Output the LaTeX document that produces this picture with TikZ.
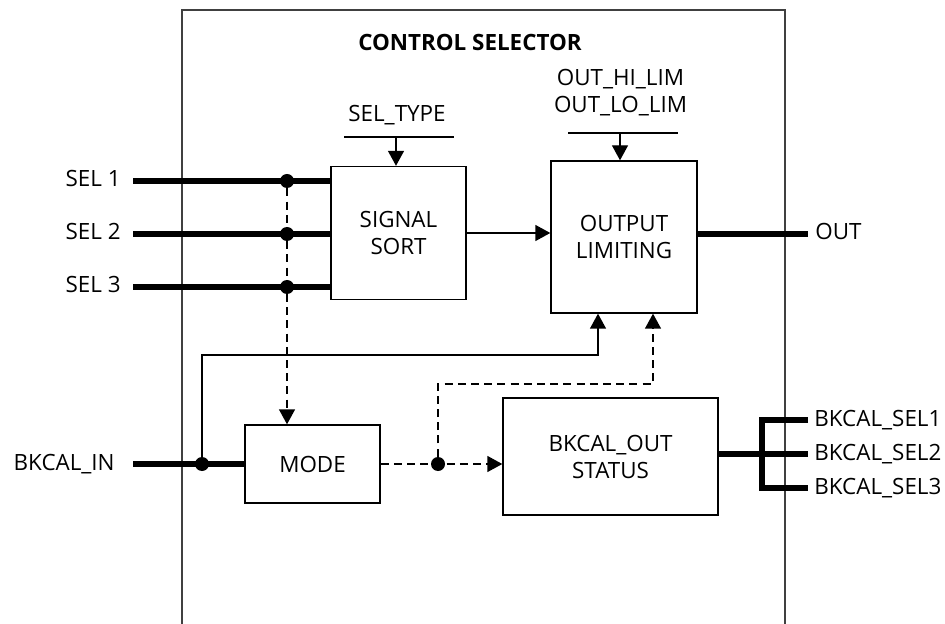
\documentclass[tikz,border=0pt]{standalone}
\usepackage{fontspec}
\setmainfont{Open Sans}
\usepackage{tikz}
\usetikzlibrary{arrows.meta,positioning}

\begin{document}
\begin{tikzpicture}[x=0.5pt,y=-0.5pt,
  font=\fontsize{11.2}{13.5}\selectfont,
  >={Triangle[length=7.5pt,width=8pt]},
  frame/.style={line width=0.7pt,black!75},
  blk/.style={draw,line width=0.7pt,align=center,inner sep=0pt},
  lbl/.style={inner sep=0pt,text height=8pt,text depth=2pt},
  sig/.style={line width=0.7pt},
  dsig/.style={line width=0.7pt,dash pattern=on 4pt off 2.6pt},
  bus/.style={line width=2.6pt},
  dot/.style={circle,fill,inner sep=0pt,minimum size=7pt}]
  \useasboundingbox (0,0) rectangle (945,624);
  % outer frame, open at the bottom
  \draw[frame] (182,624) |- (785,10) -- (785,624);
  \node[font=\bfseries\fontsize{11.2}{13}\selectfont] (title) at (470,42) {CONTROL SELECTOR};
  % blocks
  \node[blk,minimum width=67.5pt,minimum height=66.5pt] (sort) at (398.5,233) {SIGNAL\\SORT};
  \node[blk,minimum width=73pt,minimum height=76pt] (limit) at (624,237) {OUTPUT\\LIMITING};
  \node[blk,minimum width=67.5pt,minimum height=39pt] (mode) at (312.5,464) {MODE};
  \node[blk,minimum width=107.5pt,minimum height=58.5pt] (bkout) at (610.5,456.5) {BKCAL\_OUT\\STATUS};
  % parameters from above
  \node[lbl] (seltype) at (397,116) {SEL\_TYPE};
  \coordinate (stin) at (396,137);
  \draw[sig] ([xshift=-26pt]stin) -- ([xshift=29pt]stin);
  \draw[sig,->] (stin) -- (stin |- sort.north);
  \node[align=center,inner sep=0pt] (lims) at (620.5,93) {OUT\_HI\_LIM\\OUT\_LO\_LIM};
  \coordinate (limin) at (620,133);
  \draw[sig] ([xshift=-26pt]limin) -- ([xshift=29pt]limin);
  \draw[sig,->] (limin) -- (limin |- limit.north);
  % inputs
  \node[lbl,anchor=east,inner xsep=6pt] (sel1) at (133,181) {SEL 1};
  \node[lbl,anchor=east,inner xsep=6pt] (sel2) at (133,234) {SEL 2};
  \node[lbl,anchor=east,inner xsep=6pt] (sel3) at (133,287) {SEL 3};
  \node[lbl,anchor=east,inner xsep=9pt] (bkin) at (133,464) {BKCAL\_IN};
  \draw[bus] (sel1.east) -- (sel1.east -| sort.west);
  \draw[bus] (sel2.east) -- (sel2.east -| sort.west);
  \draw[bus] (sel3.east) -- (sel3.east -| sort.west);
  \draw[bus] (bkin.east) -- (bkin.east -| mode.west);
  \node[dot] (j1) at (287,181) {};
  \node[dot] (j2) at (287,234) {};
  \node[dot] (j3) at (287,287) {};
  \node[dot] (jin) at (202,464) {};
  \node[dot] (jm) at (438,464) {};
  \draw[dsig,->] (j1) -- (j1 |- mode.north);
  % feedback paths into the limiter
  \coordinate (fb) at (598,355);
  \coordinate (fd) at (653,384);
  \draw[sig,->] (jin) |- (fb) -- (fb |- limit.south);
  \draw[dsig,->] (jm) |- (fd) -- (fd |- limit.south);
  \draw[dsig,->] (mode.east) -- (mode.east -| bkout.west);
  \draw[sig,->] (sort.east) -- (sort.east -| limit.west);
  % outputs
  \node[lbl,anchor=west,inner xsep=3.5pt] (out) at (808,234) {OUT};
  \draw[bus] (limit.east |- out.west) -- (out.west);
  \node[lbl,anchor=west,inner xsep=3pt] (bs1) at (808,420) {BKCAL\_SEL1};
  \node[lbl,anchor=west,inner xsep=3pt] (bs2) at (808,454) {BKCAL\_SEL2};
  \node[lbl,anchor=west,inner xsep=3pt] (bs3) at (808,488) {BKCAL\_SEL3};
  \coordinate (fork) at (762,454);
  \draw[bus] (bkout.east |- fork) -- (fork);
  \draw[bus] (bs1.west) -| (fork) |- (bs3.west);
  \draw[bus] (fork) -- (bs2.west);
\end{tikzpicture}
\end{document}
